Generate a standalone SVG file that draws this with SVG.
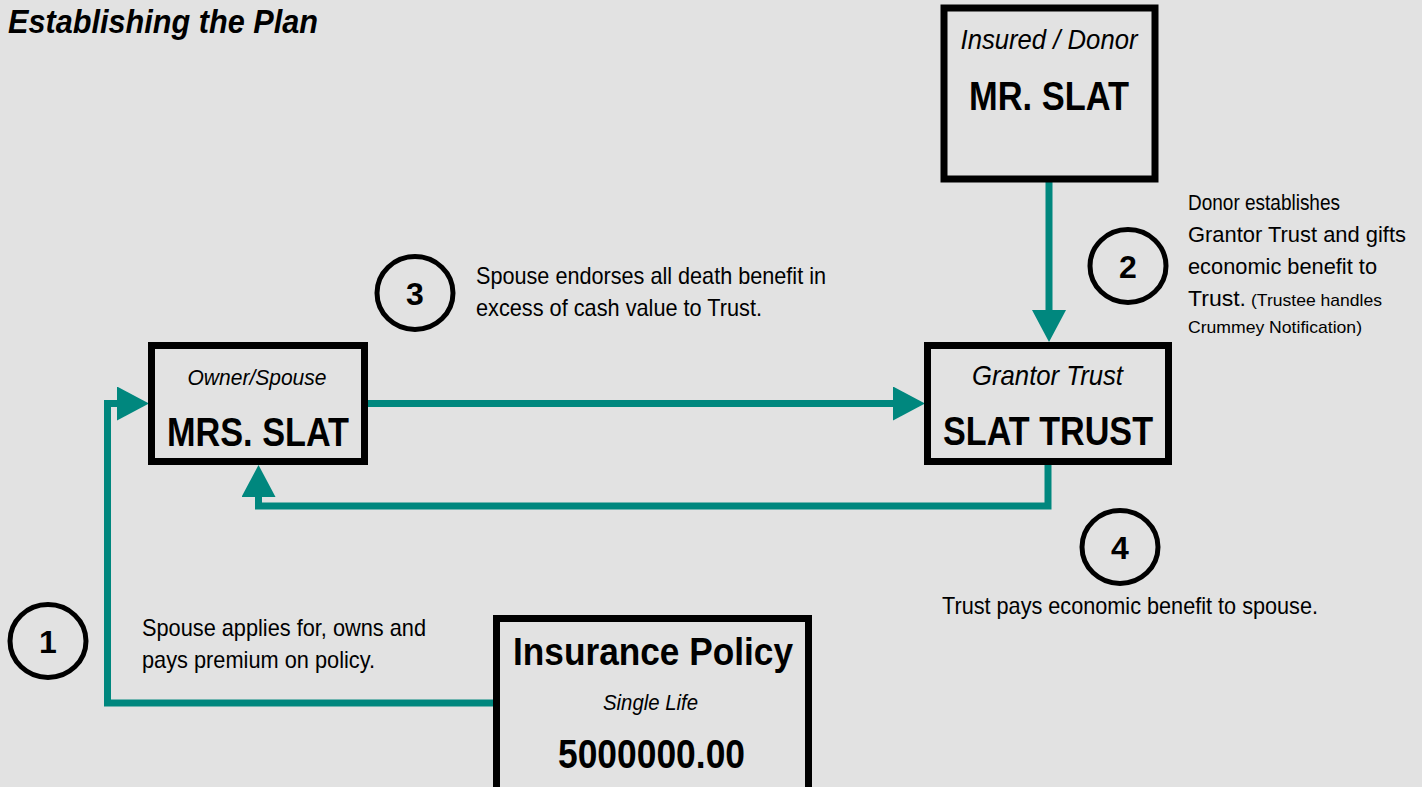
<svg xmlns="http://www.w3.org/2000/svg" width="1422" height="787" viewBox="0 0 1422 787">
<style>
.box{fill:#e2e2e2;stroke:#000;stroke-width:7}
.conn{fill:none;stroke:#00877e;stroke-width:7}
.circ{fill:none;stroke:#000;stroke-width:5}
text{font-family:"Liberation Sans",Arial,sans-serif;fill:#000}
.it{font-style:italic}
.b{font-weight:bold}
.big{font-size:40px;font-weight:bold}
.sub{font-size:28px;font-style:italic}
.desc{font-size:24px}
.desc2{font-size:22px}
.small{font-size:17px}
.num{font-size:32px;font-weight:bold}
</style>
<defs>
<marker id="ah" viewBox="0 0 32 34" refX="0" refY="17" markerWidth="32" markerHeight="34" markerUnits="userSpaceOnUse" orient="auto">
<path d="M0 0 L32 17 L0 34 Z" fill="#00877e"/>
</marker>
</defs>
<rect width="1422" height="787" fill="#e2e2e2"/>
<text x="8" y="33" class="b it" font-size="33" textLength="310" lengthAdjust="spacingAndGlyphs">Establishing the Plan</text>

<g id="connectors">
<path class="conn" d="M1049 182 L1049 310" marker-end="url(#ah)"/>
<path class="conn" d="M368 403.5 L893 403.5" marker-end="url(#ah)"/>
<path class="conn" d="M1048 465 V506 H258.5 V497" marker-end="url(#ah)"/>
<path class="conn" d="M493 703 H107.5 V403.5 H117" marker-end="url(#ah)"/>
</g>

<g id="mr-slat">
<rect class="box" x="944" y="8" width="211" height="171"/>
<text x="1049" y="49" class="sub" text-anchor="middle" textLength="177" lengthAdjust="spacingAndGlyphs">Insured / Donor</text>
<text x="1049" y="110" class="big" text-anchor="middle" textLength="160" lengthAdjust="spacingAndGlyphs">MR. SLAT</text>
</g>

<g id="mrs-slat">
<rect class="box" x="151.5" y="345.5" width="213" height="116"/>
<text x="257" y="385" class="it" font-size="22" text-anchor="middle" textLength="139" lengthAdjust="spacingAndGlyphs">Owner/Spouse</text>
<text x="258" y="446" class="big" text-anchor="middle" textLength="182" lengthAdjust="spacingAndGlyphs">MRS. SLAT</text>
</g>

<g id="slat-trust">
<rect class="box" x="927.5" y="345.5" width="241" height="116"/>
<text x="1047.5" y="385" class="sub" text-anchor="middle" textLength="151" lengthAdjust="spacingAndGlyphs">Grantor Trust</text>
<text x="1048" y="445" class="big" text-anchor="middle" textLength="210" lengthAdjust="spacingAndGlyphs">SLAT TRUST</text>
</g>

<g id="insurance-policy">
<rect class="box" x="496.5" y="618.5" width="312" height="200"/>
<text x="653" y="665" class="b" font-size="38" text-anchor="middle" textLength="280" lengthAdjust="spacingAndGlyphs">Insurance Policy</text>
<text x="650.5" y="710" class="it" font-size="22" text-anchor="middle" textLength="95" lengthAdjust="spacingAndGlyphs">Single Life</text>
<text x="651.5" y="768" class="big" text-anchor="middle" textLength="187" lengthAdjust="spacingAndGlyphs">5000000.00</text>
</g>

<g id="step1">
<ellipse class="circ" cx="48" cy="641" rx="38" ry="36.5"/>
<text x="48" y="652.5" class="num" text-anchor="middle">1</text>
<text x="142" y="636" class="desc" textLength="284" lengthAdjust="spacingAndGlyphs">Spouse applies for, owns and</text>
<text x="142" y="668" class="desc" textLength="233" lengthAdjust="spacingAndGlyphs">pays premium on policy.</text>
</g>

<g id="step2">
<ellipse class="circ" cx="1128" cy="266" rx="38" ry="36.5"/>
<text x="1128" y="277.5" class="num" text-anchor="middle">2</text>
<text x="1188" y="210" class="desc2" textLength="152" lengthAdjust="spacingAndGlyphs">Donor establishes</text>
<text x="1188" y="242" class="desc2" textLength="218" lengthAdjust="spacingAndGlyphs">Grantor Trust and gifts</text>
<text x="1188" y="274" class="desc2" textLength="189" lengthAdjust="spacingAndGlyphs">economic benefit to</text>
<text x="1188" y="306" class="desc2" textLength="58" lengthAdjust="spacingAndGlyphs">Trust.</text>
<text x="1251" y="306" class="small" textLength="131" lengthAdjust="spacingAndGlyphs">(Trustee handles</text>
<text x="1188" y="333" class="small" textLength="174" lengthAdjust="spacingAndGlyphs">Crummey Notification)</text>
</g>

<g id="step3">
<ellipse class="circ" cx="415" cy="293" rx="38" ry="36.5"/>
<text x="415" y="304.5" class="num" text-anchor="middle">3</text>
<text x="476" y="284" class="desc" textLength="350" lengthAdjust="spacingAndGlyphs">Spouse endorses all death benefit in</text>
<text x="476" y="316" class="desc" textLength="286" lengthAdjust="spacingAndGlyphs">excess of cash value to Trust.</text>
</g>

<g id="step4">
<ellipse class="circ" cx="1120" cy="547" rx="38" ry="36.5"/>
<text x="1120" y="558.5" class="num" text-anchor="middle">4</text>
<text x="942" y="614" class="desc" textLength="376" lengthAdjust="spacingAndGlyphs">Trust pays economic benefit to spouse.</text>
</g>
</svg>
